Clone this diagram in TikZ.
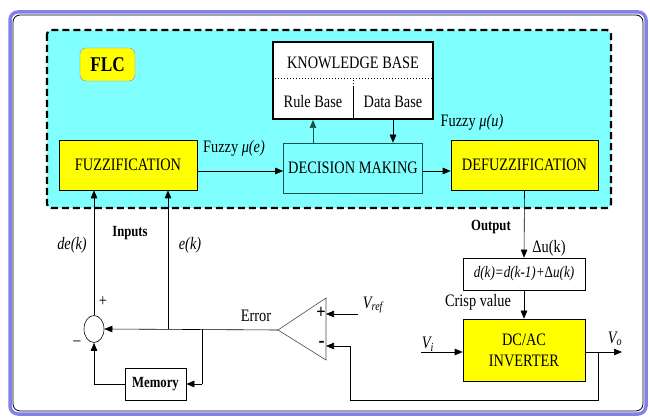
\documentclass[tikz,border=0pt]{standalone}
\usepackage{fontspec}
\setmainfont{Liberation Serif}[FakeStretch=0.82]
\usetikzlibrary{arrows.meta,shapes.geometric}
\definecolor{flccyan}{RGB}{128,255,255}
\definecolor{flcyellow}{RGB}{255,255,0}
\definecolor{framelav}{RGB}{130,130,230}
\definecolor{tealline}{RGB}{20,80,80}
\tikzset{
  box/.style={draw=black, line width=0.6pt, inner sep=0pt, align=center, font=\fontsize{17.5}{21}\selectfont},
  ybox/.style={box, fill=flcyellow},
  lbl/.style={inner sep=0pt, font=\fontsize{17.5}{21}\selectfont},
  blbl/.style={inner sep=0pt, font=\fontsize{15.5}{18}\selectfont\bfseries},
  arr/.style={-{Triangle[length=8pt,width=6.5pt]}, line width=0.6pt},
  ln/.style={line width=0.6pt},
}
\begin{document}
\begin{tikzpicture}[x=1pt,y=-1pt]
\useasboundingbox (0,0) rectangle (650,419);
% outer frame
\draw[framelav, line width=3.5pt, rounded corners=8pt] (10,12) rectangle (646,414);
\draw[black, line width=0.8pt, rounded corners=7pt] (13,15) rectangle (643,411);
% FLC region
\fill[flccyan, rounded corners=5pt] (47,30) rectangle (611,208);
\draw[black, line width=2.2pt, dash pattern=on 7pt off 4pt, rounded corners=4pt] (47,30) rectangle (611,208);
\node[draw=framelav, fill=flcyellow, rounded corners=6pt, minimum width=55pt, minimum height=33pt, inner sep=0pt, font=\fontsize{21}{23}\selectfont\bfseries] (flc) at (107.5,64.5) {FLC};
% main boxes
\node[ybox, minimum width=138pt, minimum height=50pt] (fuzz) at (128,165) {FUZZIFICATION};
\node[box, draw=tealline, fill=flccyan, minimum width=139pt, minimum height=50pt] (dm) at (353,168) {DECISION MAKING};
\node[ybox, minimum width=147pt, minimum height=50pt] (defuz) at (524.5,165) {DEFUZZIFICATION};
% knowledge base
\node[draw=black, fill=white, line width=2pt, minimum width=160pt, minimum height=77pt, inner sep=0pt] (kb) at (353,80.5) {};
\draw[dotted, line width=1pt] (kb.west |- 0,79) -- (kb.east |- 0,79);
\draw[ln] (kb.south) -- (353,87);
\draw[dotted, line width=1pt] (353,87) -- (353,79);
\node[lbl] (kbt) at (353,63) {KNOWLEDGE BASE};
\node[lbl] (rb) at (313,102) {Rule Base};
\node[lbl] (db) at (393,102) {Data Base};
% FLC arrows
\draw[arr] (fuzz.east |- 0,171) -- (dm.west |- 0,171);
\draw[arr] (dm.east |- 0,171) -- (defuz.west |- 0,171);
\draw[arr, tealline] ([xshift=-40pt]dm.north) -- ([xshift=-40pt]kb.south);
\draw[arr] ([xshift=40pt]kb.south) -- ([xshift=40pt]dm.north);
\node[lbl] (fe) at (234,148) {Fuzzy {\itshape μ(e)}};
\node[lbl] (fu) at (472,122) {Fuzzy {\itshape μ(u)}};
% output chain
\node[box, fill=white, minimum width=122pt, minimum height=32pt, font=\fontsize{16}{18}\selectfont] (dbox) at (524,274) {\itshape d(k)=d(k-1)+\upshape Δ\itshape u(k)};
\node[ybox, minimum width=122pt, minimum height=62pt, align=center] (inv) at (524,350) {DC/AC\\INVERTER};
\draw[arr] (defuz.south) -- (dbox.north);
\draw[arr] (dbox.south) -- (inv.north);
\node[blbl] (outl) at (491,227) {Output};
\node[lbl] (dul) at (549,248) {Δu(k)};
\node[lbl] (crisp) at (478,302) {Crisp value};
\coordinate (vi) at (421,352);
\coordinate (vo) at (622,352);
\draw[arr] (vi) -- (inv.west |- vi);
\draw[arr] (inv.east |- vo) -- (vo);
\node[lbl] (vil) at (428,344) {\itshape V\textsubscript{i}};
\node[lbl] (vol) at (615,339) {\itshape V\textsubscript{o}};
% comparator triangle
\coordinate (apex) at (278,330);
\coordinate (ttop) at (326,298);
\coordinate (tbot) at (326,360);
\draw[line width=0.6pt, draw=black!70] (apex) -- (ttop) -- (tbot) -- cycle;
\node[lbl, font=\fontsize{20}{22}\selectfont\bfseries] (tp) at (321,313) {+};
\node[lbl, font=\fontsize{22}{22}\selectfont\bfseries] (tm) at (321.5,344) {-};
\coordinate (vref) at (358,314);
\draw[arr] (vref) -- (326,314);
\node[lbl] (vrefl) at (373,305) {\itshape V\textsubscript{ref}};
% feedback
\coordinate (fb1) at (598,352);
\coordinate (fb2) at (598,400);
\coordinate (fb3) at (350,400);
\coordinate (fb4) at (350,346);
\draw[ln] (fb1) -- (fb2) -- (fb3) -- (fb4);
\draw[arr] (fb4) -- (326,346);
% summing junction
\node[draw=black, ellipse, minimum width=20pt, minimum height=27pt, inner sep=0pt, line width=0.6pt] (sum) at (94,329) {};
\draw[arr] (apex) -- (sum.east);
\node[lbl] (errl) at (256,316) {Error};
\node[lbl] (sp) at (103,302) {+};
\node[lbl] (sm) at (77,343) {–};
% inputs
\coordinate (ek) at (168,329);
\draw[arr] (ek) -- (fuzz.south -| ek);
\draw[arr] (sum.north) -- (fuzz.south -| sum.north);
\node[lbl] (dekl) at (72,245) {\itshape de(k)};
\node[lbl] (ekl) at (190,245) {\itshape e(k)};
\node[blbl] (inl) at (130,233) {Inputs};
% memory
\node[box, fill=white, minimum width=61pt, minimum height=32pt, font=\fontsize{15.5}{18}\selectfont\bfseries] (mem) at (155.5,384) {Memory};
\coordinate (br) at (202,329);
\draw[ln] (br) -- (br |- mem.east);
\draw[arr] (br |- mem.east) -- (mem.east);
\draw[ln] (mem.west) -- (sum.south |- mem.west);
\draw[arr] (sum.south |- mem.west) -- (sum.south);
\end{tikzpicture}
\end{document}
